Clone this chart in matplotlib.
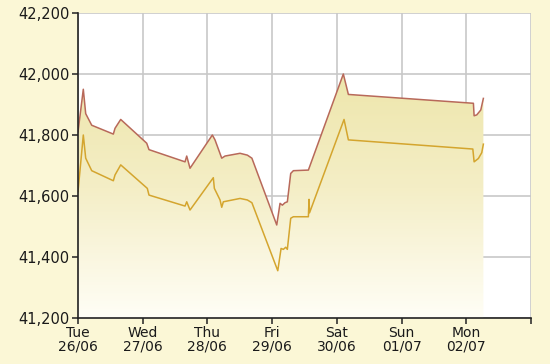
import numpy as np
import matplotlib
matplotlib.use("Agg")
import matplotlib.pyplot as plt
from matplotlib.colors import LinearSegmentedColormap

# time in days since Tue 26/06 00:00
sell_x = [0.0, 0.082, 0.119, 0.212, 0.546, 0.572, 0.660, 1.062, 1.097, 1.654, 1.680,
          1.731, 2.076, 2.117, 2.221, 2.272, 2.504, 2.617, 2.687, 3.071, 3.122, 3.158,
          3.199, 3.235, 3.287, 3.328, 3.560, 4.100, 4.178, 6.110, 6.121, 6.162, 6.224, 6.264]
sell_y = [41810, 41950, 41870, 41832, 41803, 41822, 41851, 41773, 41752, 41712, 41731,
          41691, 41800, 41784, 41724, 41731, 41740, 41734, 41724, 41505, 41576, 41570,
          41578, 41581, 41674, 41683, 41685, 42000, 41933, 41904, 41863, 41866, 41882, 41920]

buy_x = [0.0, 0.082, 0.119, 0.212, 0.546, 0.572, 0.660, 1.071, 1.097, 1.654, 1.680,
         1.731, 2.091, 2.107, 2.195, 2.221, 2.246, 2.504, 2.617, 2.687, 3.087, 3.138,
         3.173, 3.210, 3.235, 3.287, 3.328, 3.560, 3.570, 3.578, 4.111, 4.178, 6.101,
         6.121, 6.187, 6.239, 6.264]
buy_y = [41614, 41800, 41724, 41683, 41650, 41669, 41702, 41625, 41603, 41567, 41581,
         41554, 41660, 41625, 41587, 41563, 41581, 41592, 41587, 41578, 41355, 41428,
         41425, 41432, 41425, 41527, 41532, 41532, 41589, 41545, 41851, 41784, 41754,
         41712, 41723, 41742, 41770]

day_labels = ["Tue\n26/06", "Wed\n27/06", "Thu\n28/06", "Fri\n29/06",
              "Sat\n30/06", "Sun\n01/07", "Mon\n02/07", ""]
y_ticks = [41200, 41400, 41600, 41800, 42000, 42200]

BG = "#FBF7D6"
fig = plt.figure(figsize=(5.5, 3.64), dpi=100, facecolor=BG)
ax = fig.add_axes([78/550, 1-318/364, (531-78)/550, (318-13)/364])
ax.set_facecolor("white")
ymin, ymax = 41200, 42200
xmin, xmax = 0, 7
ax.set_xlim(xmin, xmax)
ax.set_ylim(ymin, ymax)

# gradient fill under upper line
poly = ax.fill_between(sell_x, sell_y, ymin, facecolor="none", edgecolor="none")
cmap = LinearSegmentedColormap.from_list("g", ["#FFFEF6", "#F4EEC6", "#EDE5A8"])
grad = np.linspace(0, 1, 256).reshape(-1, 1)
im = ax.imshow(grad, aspect="auto", cmap=cmap, origin="lower",
               extent=[xmin, xmax, ymin, 42050], zorder=1)
path = poly.get_paths()[0]
im.set_clip_path(path, transform=ax.transData)

ax.plot(sell_x, sell_y, color="#B8695A", lw=1.1, zorder=3)
ax.plot(buy_x, buy_y, color="#D4A52E", lw=1.1, zorder=3)

ax.set_yticks(y_ticks)
ax.set_yticklabels([f"{v:,}" for v in y_ticks])
ax.set_xticks(range(8))
ax.set_xticklabels(day_labels, linespacing=0.95)

ax.grid(True, color="#C8C8C8", lw=1.2, zorder=0)
ax.set_axisbelow(True)
for s in ["top", "right"]:
    ax.spines[s].set_visible(False)
for s in ["left", "bottom"]:
    ax.spines[s].set_color("#222222")
    ax.spines[s].set_linewidth(1.2)
    ax.spines[s].set_zorder(4)
ax.tick_params(axis="both", direction="out", length=4, width=1.1, color="#222222",
               labelsize=10.5, labelcolor="#1A1A1A", pad=2)
ax.tick_params(axis="x", pad=1.5)
for t in ax.get_xticklabels():
    t.set_fontsize(10)

fig.savefig("out.png", dpi=100, facecolor=BG)
